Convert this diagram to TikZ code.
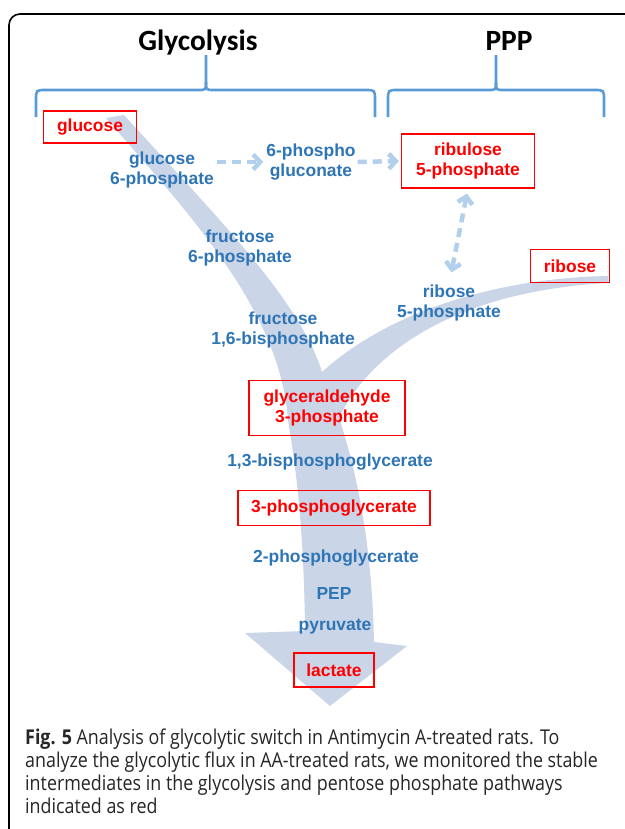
\documentclass[tikz,border=0pt]{standalone}
\usepackage{fontspec}
\setmainfont{Liberation Sans}
\newfontfamily\headfont{Carlito}
\newfontfamily\capfont[FakeStretch=0.875]{Open Sans}
\usetikzlibrary{arrows.meta}

\definecolor{labelblue}{RGB}{46,117,182}
\definecolor{bracketblue}{RGB}{91,155,213}
\definecolor{dashblue}{RGB}{178,207,236}
\definecolor{fluxgrey}{RGB}{203,213,232}

\tikzset{
  metab/.style={text=labelblue, font=\bfseries\fontsize{17.5}{21}\selectfont, align=center, inner sep=0pt},
  measured/.style={draw=red, line width=1.2bp, text=red, font=\bfseries\fontsize{17.5}{21}\selectfont, align=center},
  title/.style={anchor=base, font=\headfont\bfseries\fontsize{29.5}{31}\selectfont},
  bracket/.style={draw=bracketblue, line width=2.6bp},
  dasharrow/.style={draw=dashblue, line width=4.5bp, dash pattern=on 9bp off 6bp, -{Straight Barb[length=7bp,width=15bp]}},
  flux/.style={fill=fluxgrey}
}

\begin{document}
\begin{tikzpicture}[x=1bp, y=-1bp]
\useasboundingbox (0,0) rectangle (625,829);
\clip (0,0) rectangle (625,829);

% Frame
\draw[line width=1.6bp, rounded corners=11bp] (9,850) -- (9,14) -- (650,14);

% Flux arrows
\fill[flux] (106,118) .. controls (190,215) and (280,310) .. (288,420) .. controls (298,480) and (304,540) .. (305,631) -- (245,633) -- (330,706) -- (407,646) -- (374,642) .. controls (372,540) and (355,450) .. (322,372) .. controls (300,300) and (215,215) .. (124,115) -- cycle;
\fill[flux] (608,276) .. controls (500,278) and (390,310) .. (322,372) -- (336,425) .. controls (360,365) and (440,292) .. (608,283) -- cycle;

% Titles and braces
\node at (198,50) (glyc) [title] {Glycolysis};
\node at (509,50) (ppp) [title] {PPP};
\foreach \l/\m/\r in {36/206/375, 388/496/604} {
  \draw[bracket] (\l,117) -- (\l,100) .. controls (\l,90) .. (\l+10,90) -- (\m-8,90) .. controls (\m,90) .. (\m,82) -- (\m,55);
  \draw[bracket] (\r,117) -- (\r,100) .. controls (\r,90) .. (\r-10,90) -- (\m+8,90) .. controls (\m,90) .. (\m,82);
}

% Measured metabolites
\node at (90,127) (glc) [measured, minimum width=93bp, minimum height=32bp] {glucose};
\node at (468,161) (ru5p) [measured, minimum width=133bp, minimum height=54bp] {ribulose\\5-phosphate};
\node at (570,266) (rib) [measured, minimum width=79bp, minimum height=33bp] {ribose};
\node at (327,408) (gap) [measured, minimum width=156bp, minimum height=55bp] {glyceraldehyde\\3-phosphate};
\node at (334,508) (pg3) [measured, minimum width=192bp, minimum height=35bp] {3-phosphoglycerate};
\node at (334,670) (lac) [measured, minimum width=80bp, minimum height=34bp] {lactate};

% Other intermediates
\node at (162,170) (g6p) [metab] {glucose\\6-phosphate};
\node at (311,162) (pgl) [metab] {6-phospho\\gluconate};
\node at (240,248) (f6p) [metab] {fructose\\6-phosphate};
\node at (449,303) (r5p) [metab] {ribose\\5-phosphate};
\node at (283,330) (fbp) [metab] {fructose\\1,6-bisphosphate};
\node at (330,462) (bpg) [metab] {1,3-bisphosphoglycerate};
\node at (336,558) (pg2) [metab] {2-phosphoglycerate};
\node at (334,593) (pep) [metab] {PEP};
\node at (335,627) (pyr) [metab] {pyruvate};

% PPP arrows
\draw[dasharrow, shorten <=3bp, shorten >=3bp] (g6p.east |- pgl.west) -- (pgl.west);
\draw[dasharrow, shorten <=2bp, shorten >=2bp] (pgl.east) -- (ru5p.west);
\draw[dasharrow, {Straight Barb[length=7bp,width=15bp]}-{Straight Barb[length=7bp,width=15bp]}, shorten <=5bp, shorten >=12bp] (ru5p.south) -- (r5p.north);

% Caption
\node at (25,729) (caption) [anchor=north west, align=left, inner sep=0pt, text=black!85, font=\capfont\fontsize{20.5}{23}\selectfont] {{\bfseries Fig. 5} Analysis of glycolytic switch in Antimycin A-treated rats. To\\analyze the glycolytic flux in AA-treated rats, we monitored the stable\\intermediates in the glycolysis and pentose phosphate pathways\\indicated as red};

\end{tikzpicture}
\end{document}
